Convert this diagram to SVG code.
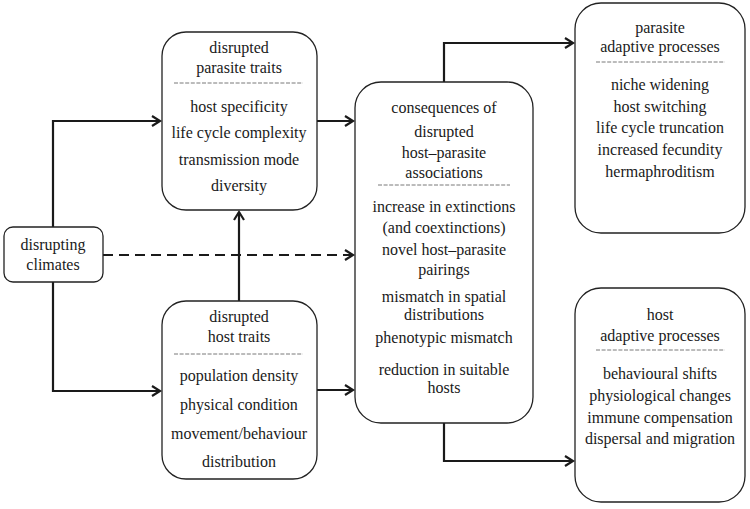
<svg xmlns="http://www.w3.org/2000/svg" width="750" height="509" viewBox="0 0 750 509">
<defs>
<style>
.box{fill:#fff;stroke:#222;stroke-width:1.3}
.t{font-family:'Liberation Serif','Times New Roman',serif;font-size:16px;fill:#1a1a1a;text-anchor:middle}
.sep{stroke:#555;stroke-width:0.8;stroke-dasharray:4 1.6}
.c{fill:none;stroke:#1a1a1a;stroke-width:2.2}
.d{stroke-dasharray:10 6}
</style>
<marker id="ah" markerUnits="userSpaceOnUse" markerWidth="14" markerHeight="14" viewBox="0 0 14 14" refX="11" refY="7" orient="auto">
<path d="M3,2 L11,7 L3,12" fill="none" stroke="#1a1a1a" stroke-width="2.2"/>
</marker>
</defs>
<rect width="750" height="509" fill="#fff"/>
<g id="connectors">
<path class="c" d="M53,227 V121 H160" marker-end="url(#ah)"/>
<path class="c" d="M53,282 V391 H160" marker-end="url(#ah)"/>
<path class="c d" d="M103,255 H353" marker-end="url(#ah)"/>
<path class="c" d="M239,301 V212" marker-end="url(#ah)"/>
<path class="c" d="M317,121 H353" marker-end="url(#ah)"/>
<path class="c" d="M317,390 H353" marker-end="url(#ah)"/>
<path class="c" d="M444,82 V43 H573" marker-end="url(#ah)"/>
<path class="c" d="M444,423 V461 H573" marker-end="url(#ah)"/>
</g>
<g id="climates">
<rect class="box" x="4" y="227" width="99" height="55" rx="9"/>
<text class="t" x="53" y="250">disrupting</text>
<text class="t" x="53" y="270">climates</text>
</g>
<g id="parasite-traits">
<rect class="box" x="162" y="32" width="155" height="178" rx="24"/>
<text class="t" x="239" y="53">disrupted</text>
<text class="t" x="239" y="73">parasite traits</text>
<line class="sep" x1="174" y1="83" x2="303" y2="83"/>
<text class="t" x="239" y="112">host specificity</text>
<text class="t" x="239" y="138">life cycle complexity</text>
<text class="t" x="239" y="165">transmission mode</text>
<text class="t" x="239" y="191">diversity</text>
</g>
<g id="host-traits">
<rect class="box" x="162" y="301" width="155" height="178" rx="24"/>
<text class="t" x="239" y="322">disrupted</text>
<text class="t" x="239" y="342">host traits</text>
<line class="sep" x1="174" y1="354" x2="303" y2="354"/>
<text class="t" x="239" y="381">population density</text>
<text class="t" x="239" y="410">physical condition</text>
<text class="t" x="239" y="439">movement/behaviour</text>
<text class="t" x="239" y="467">distribution</text>
</g>
<g id="consequences">
<rect class="box" x="355" y="82" width="178" height="341" rx="26"/>
<text class="t" x="444" y="113">consequences of</text>
<text class="t" x="444" y="137">disrupted</text>
<text class="t" x="444" y="158">host–parasite</text>
<text class="t" x="444" y="178">associations</text>
<line class="sep" x1="378" y1="185" x2="510" y2="185"/>
<text class="t" x="444" y="212">increase in extinctions</text>
<text class="t" x="444" y="233">(and coextinctions)</text>
<text class="t" x="444" y="255">novel host–parasite</text>
<text class="t" x="444" y="275">pairings</text>
<text class="t" x="444" y="302">mismatch in spatial</text>
<text class="t" x="444" y="320">distributions</text>
<text class="t" x="444" y="343">phenotypic mismatch</text>
<text class="t" x="444" y="375">reduction in suitable</text>
<text class="t" x="444" y="393">hosts</text>
</g>
<g id="parasite-adaptive">
<rect class="box" x="575" y="3" width="170" height="230" rx="26"/>
<text class="t" x="660" y="33">parasite</text>
<text class="t" x="660" y="52">adaptive processes</text>
<line class="sep" x1="596" y1="62" x2="725" y2="62"/>
<text class="t" x="660" y="90">niche widening</text>
<text class="t" x="660" y="112">host switching</text>
<text class="t" x="660" y="133">life cycle truncation</text>
<text class="t" x="660" y="155">increased fecundity</text>
<text class="t" x="660" y="177">hermaphroditism</text>
</g>
<g id="host-adaptive">
<rect class="box" x="575" y="288" width="170" height="214" rx="26"/>
<text class="t" x="660" y="320">host</text>
<text class="t" x="660" y="341">adaptive processes</text>
<line class="sep" x1="596" y1="350" x2="725" y2="350"/>
<text class="t" x="660" y="379">behavioural shifts</text>
<text class="t" x="660" y="401">physiological changes</text>
<text class="t" x="660" y="423">immune compensation</text>
<text class="t" x="660" y="444">dispersal and migration</text>
</g>
</svg>
